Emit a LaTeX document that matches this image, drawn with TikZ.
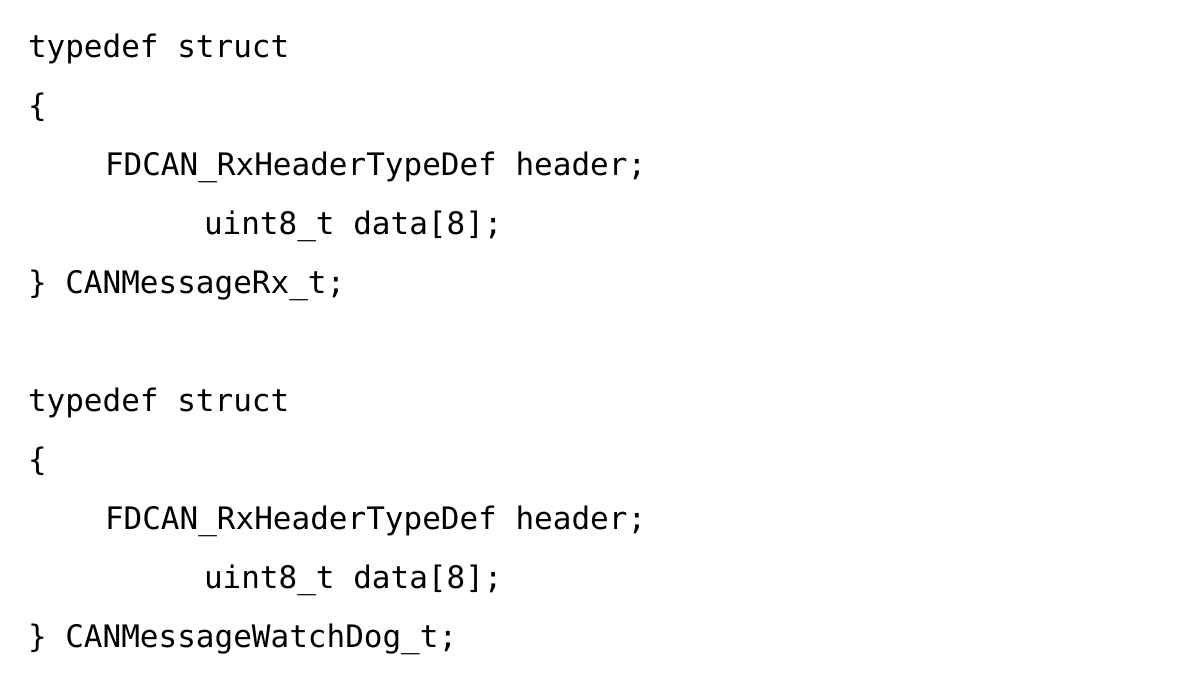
\documentclass[tikz,border=0pt]{standalone}
\usepackage{fontspec}
\newfontfamily\codefont{DejaVu Sans Mono}
\begin{document}
\begin{tikzpicture}[x=0.5pt,y=-0.5pt,
  code/.style={anchor=base west,inner sep=0pt,outer sep=0pt,font=\codefont\fontsize{15.5pt}{18pt}\selectfont,text=black}]
\fill[white] (0,0) rectangle (1200,694);
\useasboundingbox (0,0) rectangle (1200,694);
\node[code] (t1) at (28,58) {typedef struct};
\node[code] (o1) at (28,117) {\{};
\node[code] (h1) at (105,176) {FDCAN\_RxHeaderTypeDef header;};
\node[code] (d1) at (204,235) {uint8\_t data[8];};
\node[code] (c1) at (28,294) {\} CANMessageRx\_t;};
\node[code] (t2) at (28,412) {typedef struct};
\node[code] (o2) at (28,471) {\{};
\node[code] (h2) at (105,530) {FDCAN\_RxHeaderTypeDef header;};
\node[code] (d2) at (204,589) {uint8\_t data[8];};
\node[code] (c2) at (28,648) {\} CANMessageWatchDog\_t;};
\end{tikzpicture}
\end{document}
